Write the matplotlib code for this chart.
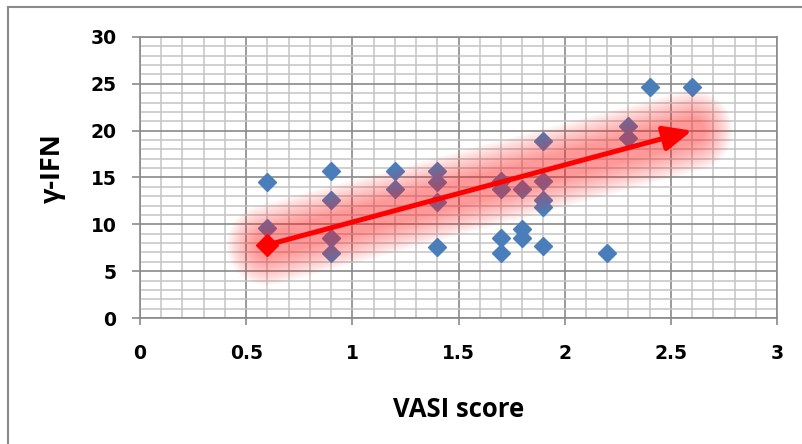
import numpy as np
import matplotlib
matplotlib.use("Agg")
import matplotlib.pyplot as plt
from matplotlib.lines import Line2D
from matplotlib.ticker import MultipleLocator

# ---- data ----
vasi = [0.6, 0.6,
        0.9, 0.9, 0.9, 0.9,
        1.2, 1.2,
        1.4, 1.4, 1.4, 1.4,
        1.7, 1.7, 1.7, 1.7,
        1.8, 1.8, 1.8,
        1.9, 1.9, 1.9, 1.9, 1.9,
        2.2,
        2.3, 2.3,
        2.4, 2.6]
ifn = [14.5, 9.6,
       15.7, 12.6, 8.5, 6.9,
       15.7, 13.8,
       15.7, 14.5, 12.4, 7.6,
       14.6, 13.8, 8.5, 6.9,
       13.8, 9.5, 8.5,
       18.9, 14.6, 12.6, 11.8, 7.7,
       6.9,
       20.5, 19.2,
       24.7, 24.7]
trend_x = [0.6, 2.6]
trend_y = [7.8, 20.0]
x_ticks = [0, 0.5, 1, 1.5, 2, 2.5, 3]
y_ticks = [0, 5, 10, 15, 20, 25, 30]
x_label = "VASI score"
y_label = "\u03b3-IFN"

plt.rcParams['font.family'] = ['Open Sans', 'DejaVu Sans']

fig = plt.figure(figsize=(8.02, 4.44), dpi=100)
ax = fig.add_axes([140/802, 1-318/444, (777-140)/802, (318-37)/444])

ax.set_xlim(0, 3)
ax.set_ylim(0, 30)
ax.xaxis.set_minor_locator(MultipleLocator(0.1))
ax.yaxis.set_minor_locator(MultipleLocator(1))
ax.set_xticks(x_ticks)
ax.set_yticks(y_ticks)
ax.set_xticklabels([f"{t:g}" for t in x_ticks])
ax.set_yticklabels([f"{t:g}" for t in y_ticks])

ax.grid(which='minor', color='#c4c4c4', linewidth=1.1, zorder=0)
ax.grid(which='major', color='#8a8a8a', linewidth=1.2, zorder=0)
ax.set_axisbelow(True)
for s in ax.spines.values():
    s.set_color('#8a8a8a')
    s.set_linewidth(1.2)

ax.tick_params(which='minor', length=0)
ax.tick_params(axis='x', which='major', length=5, width=1.2, color='#8a8a8a',
               pad=14)
ax.tick_params(axis='y', which='major', length=6, width=1.2, color='#8a8a8a',
               pad=11)
for lab in ax.get_xticklabels() + ax.get_yticklabels():
    lab.set_fontweight('bold')
    lab.set_fontfamily('DejaVu Sans')
    lab.set_fontsize(13.5)

# scatter points
ax.plot(vasi, ifn, linestyle='none', marker='D', markersize=9.5,
        color='#4a7ebb', markeredgecolor='#4a7ebb', zorder=3)

# glow along trend
n = 14
for w in np.linspace(58, 18, n):
    ax.plot(trend_x, trend_y, color='#ff2a2a', linewidth=w, alpha=0.042,
            solid_capstyle='round', zorder=4)

# arrow
ax.annotate('', xy=(trend_x[1], trend_y[1]), xytext=(trend_x[0], trend_y[0]),
            arrowprops=dict(arrowstyle='-|>,head_length=1.7,head_width=0.75',
                            color='#ff0000', lw=3.6, shrinkA=0, shrinkB=0),
            zorder=5)
ax.plot([trend_x[0]], [trend_y[0]], marker='D', markersize=11.5,
        color='#ff0000', linestyle='none', zorder=6)

ax.set_xlabel(x_label, fontsize=18.5, fontweight='bold')
ax.set_ylabel(y_label, fontsize=19.5, fontweight='bold')
ax.xaxis.set_label_coords(0.5, -0.278)
ax.yaxis.set_label_coords(-0.116, 0.535)

# outer chart border
fig.add_artist(Line2D([8/802, 8/802], [0, 1-7/444], transform=fig.transFigure,
                      color='#8a8a8a', linewidth=1.5))
fig.add_artist(Line2D([8/802, 1], [1-7/444, 1-7/444], transform=fig.transFigure,
                      color='#8a8a8a', linewidth=1.5))

fig.savefig('out.png', dpi=100)
